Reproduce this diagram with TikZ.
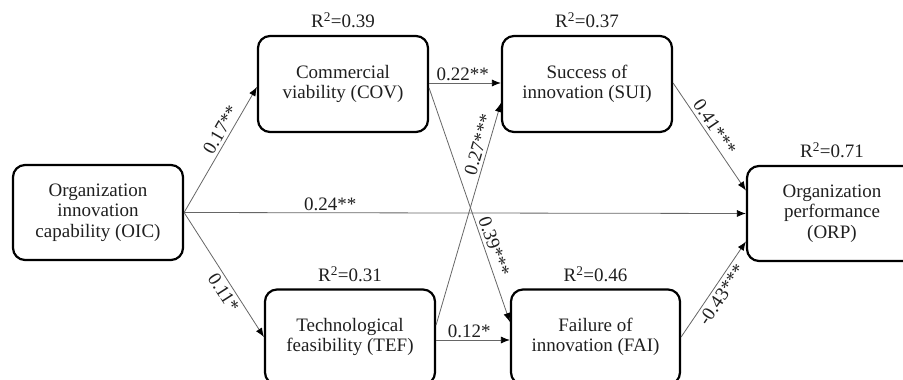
\documentclass[tikz,border=0pt]{standalone}
\usepackage{fontspec}
\setmainfont{Liberation Serif}
\usetikzlibrary{arrows.meta}
\begin{document}
\begin{tikzpicture}[x=1pt,y=-1pt,
  font=\fontsize{19}{20.5}\selectfont,text=black!88,
  var/.style={draw=black,line width=2.2pt,rounded corners=12pt,align=center,
    minimum width=170pt,minimum height=95pt,inner sep=0pt},
  rsq/.style={anchor=base,yshift=7pt,inner sep=0pt},
  link/.style={draw=black!60,line width=0.8pt,-{Latex[length=9pt,width=7pt,color=black]}},
  coef/.style={sloped,inner sep=3pt}]
\useasboundingbox (0,0) rectangle (903,380);
\node[var] (oic) at (98,212.5) {Organization\\innovation\\capability (OIC)};
\node[var,minimum height=96pt] (cov) at (343,84) {Commercial\\viability (COV)};
\node[var,minimum height=96pt] (sui) at (587,84) {Success of\\innovation (SUI)};
\node[var] (tef) at (350,337) {Technological\\feasibility (TEF)};
\node[var,minimum width=169pt] (fai) at (595.5,337) {Failure of\\innovation (FAI)};
\node[var] (orp) at (832,213.5) {Organization\\performance\\(ORP)};
\node[rsq] (covr) at (cov.north) {R\textsuperscript{2}=0.39};
\node[rsq] (suir) at (sui.north) {R\textsuperscript{2}=0.37};
\node[rsq] (tefr) at (tef.north) {R\textsuperscript{2}=0.31};
\node[rsq] (fair) at (fai.north) {R\textsuperscript{2}=0.46};
\node[rsq] (orpr) at (orp.north) {R\textsuperscript{2}=0.71};
\draw[link] (oic.east) -- ([yshift=-3pt]cov.west) node[coef,above,pos=0.62]{0.17**};
\draw[link] (oic.east) -- (tef.west) node[coef,below,pos=0.6]{0.11*};
\draw[link] (oic.east) -- (orp.west) node[above,pos=0.26,inner sep=2pt]{0.24**};
\draw[link] ([yshift=1pt]cov.east) -- ([yshift=1pt]sui.west) node[above,pos=0.47,inner sep=2pt]{0.22**};
\draw[link] ([yshift=-4pt]cov.east) -- ([yshift=15pt]fai.west) node[coef,above,pos=0.69]{0.39***};
\draw[link] ([yshift=12pt]tef.east) -- ([yshift=-19pt]sui.west) node[coef,above,pos=0.8]{0.27***};
\draw[link] ([yshift=-3pt]tef.east) -- ([yshift=-3pt]fai.west) node[above,pos=0.45,inner sep=2pt]{0.12*};
\draw[link] ([yshift=1pt]sui.east) -- ([yshift=23pt]orp.west) node[coef,above,pos=0.46]{0.41***};
\draw[link] (fai.east) -- ([yshift=-28pt]orp.west) node[coef,below,pos=0.5]{-0.43***};
\end{tikzpicture}
\end{document}
